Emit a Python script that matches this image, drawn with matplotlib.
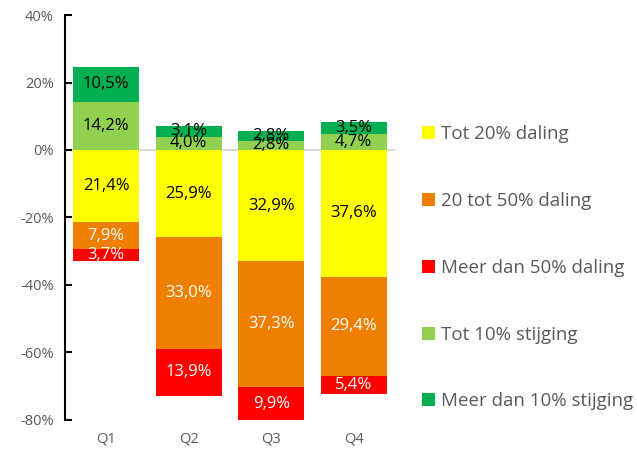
import matplotlib.pyplot as plt
import numpy as np
from matplotlib.patches import Patch

plt.rcParams['font.family'] = ['Open Sans', 'DejaVu Sans']

kwartalen = ['Q1', 'Q2', 'Q3', 'Q4']
tot20_daling = [21.4, 25.9, 32.9, 37.6]
tot50_daling = [7.9, 33.0, 37.3, 29.4]
meer50_daling = [3.7, 13.9, 9.9, 5.4]
tot10_stijging = [14.2, 4.0, 2.8, 4.7]
meer10_stijging = [10.5, 3.1, 2.8, 3.5]

namen = ['Tot 20% daling', '20 tot 50% daling', 'Meer dan 50% daling',
         'Tot 10% stijging', 'Meer dan 10% stijging']
kleuren = ['#FFFF00', '#EE7F00', '#FF0000', '#92D050', '#00B050']
tekstkleur = ['black', 'white', 'white', 'black', 'black']

fig = plt.figure(figsize=(6.37, 4.55), dpi=100)
ax = fig.add_axes([0.102, 0.077, 0.518, 0.89])

x = np.arange(len(kwartalen))
breedte = 0.8

def fmt(v):
    return f'{v:.1f}%'.replace('.', ',')

# negatieve kant: omlaag stapelen
onder = np.zeros(len(x))
for reeks, kl, tk in zip([tot20_daling, tot50_daling, meer50_daling], kleuren[:3], tekstkleur[:3]):
    waarden = -np.array(reeks)
    ax.bar(x, waarden, breedte, bottom=onder, color=kl, zorder=2)
    for xi, b, w, r in zip(x, onder, waarden, reeks):
        ax.text(xi, b + w / 2, fmt(r), ha='center', va='center', color=tk, fontsize=12, zorder=3)
    onder = onder + waarden

# positieve kant: omhoog stapelen
boven = np.zeros(len(x))
for reeks, kl, tk in zip([tot10_stijging, meer10_stijging], kleuren[3:], tekstkleur[3:]):
    waarden = np.array(reeks)
    ax.bar(x, waarden, breedte, bottom=boven, color=kl, zorder=2)
    for xi, b, w, r in zip(x, boven, waarden, reeks):
        ax.text(xi, b + w / 2, fmt(r), ha='center', va='center', color=tk, fontsize=12, zorder=3)
    boven = boven + waarden

ax.axhline(0, color='#D9D9D9', linewidth=1.5, zorder=1)

ax.set_xlim(-0.5, 3.5)
ax.set_ylim(-80, 40)
ax.set_yticks(np.arange(-80, 41, 20))
ax.set_yticklabels([f'{t}%' for t in range(-80, 41, 20)])
ax.set_xticks(x)
ax.set_xticklabels(kwartalen)

for s in ['top', 'right', 'bottom']:
    ax.spines[s].set_visible(False)
ax.spines['left'].set_linewidth(1.5)
ax.tick_params(axis='y', direction='in', length=5, width=1.5, colors='black',
               labelcolor='#595959', labelsize=10.5, pad=8)
ax.tick_params(axis='x', length=0, labelcolor='#595959', labelsize=10.5, pad=8)

handles = [Patch(facecolor=k) for k in kleuren]
fig.legend(handles, namen, loc='upper left', bbox_to_anchor=(0.648, 0.745),
           frameon=False, fontsize=13.5, labelcolor='#595959', labelspacing=2.6,
           handlelength=0.7, handleheight=0.7, handletextpad=0.3, borderpad=0)

fig.savefig('out.png')
